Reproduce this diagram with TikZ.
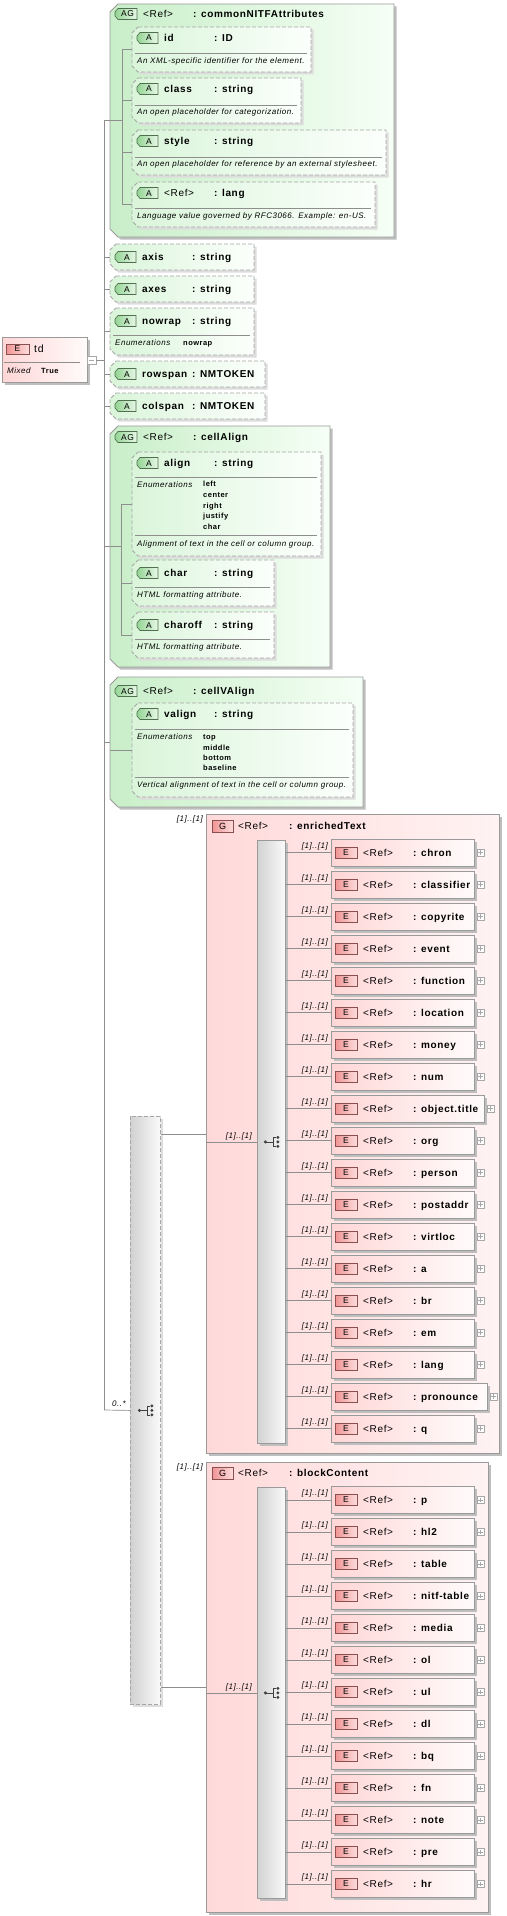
\documentclass[tikz,border=0pt]{standalone}
\usepackage{fontspec}
\setmainfont{Liberation Sans}[LetterSpace=6.5]
\definecolor{lineg}{HTML}{8E8E8E}
\definecolor{bdg}{HTML}{9A9A9A}
\definecolor{dashc}{HTML}{A6A6A6}
\definecolor{shad}{HTML}{BEBEBE}
\definecolor{shadl}{HTML}{DDDDDD}
\definecolor{agL}{HTML}{C8EEC8}
\definecolor{agR}{HTML}{F6FFF6}
\definecolor{atL}{HTML}{DAF5DA}
\definecolor{atR}{HTML}{FCFFFC}
\definecolor{abL}{HTML}{94D494}
\definecolor{abR}{HTML}{E8F8E8}
\definecolor{abD}{HTML}{4F6F4F}
\definecolor{grpL}{HTML}{FFD9D9}
\definecolor{grpR}{HTML}{FFF3F3}
\definecolor{elL}{HTML}{FFD6D6}
\definecolor{elR}{HTML}{FFFBFB}
\definecolor{ebL}{HTML}{F09494}
\definecolor{ebR}{HTML}{FDDCDC}
\definecolor{ebD}{HTML}{8A5050}
\definecolor{barL}{HTML}{D2D2D2}
\definecolor{barR}{HTML}{FAFAFA}
\definecolor{iconc}{HTML}{404040}
\definecolor{plusc}{HTML}{A8A8A8}

\tikzset{
  conn/.style={draw=lineg, line width=0.7pt},
  divl/.style={draw=lineg, line width=0.6pt},
  nm/.style={anchor=base west, inner sep=0pt, font=\fontsize{10}{12}\selectfont\bfseries, yshift=-3.6pt},
  rf/.style={anchor=base west, inner sep=0pt, font=\fontsize{10}{12}\selectfont, yshift=-3.6pt},
  ds/.style={anchor=base west, inner sep=0pt, font=\fontsize{8}{10}\selectfont\itshape, yshift=-2.9pt},
  ev/.style={anchor=base west, inner sep=0pt, font=\fontsize{7.5}{9}\selectfont\bfseries, yshift=-2.7pt},
  ml/.style={anchor=base east, inner sep=0pt, font=\fontsize{8}{10}\selectfont\itshape, yshift=-2.9pt},
  bt/.style={anchor=base, inner sep=0pt, font=\fontsize{8.5}{10}\selectfont, yshift=-3pt},
  agshape/.style={draw=bdg, line width=0.8pt, left color=agL, right color=agR},
  atshape/.style={draw=dashc, line width=0.8pt, dash pattern=on 4pt off 2pt, left color=atL, right color=atR},
  abadge/.style={draw=abD, line width=0.6pt, left color=abL, right color=abR},
  ebadge/.style={draw=ebD, line width=0.6pt, left color=ebL, right color=ebR, minimum width=22pt, minimum height=11pt, inner sep=0pt, font=\fontsize{8.5}{10}\selectfont},
  gbadge/.style={draw=ebD, line width=0.6pt, left color=ebL, right color=ebR, minimum width=21pt, minimum height=12pt, inner sep=0pt, font=\fontsize{9}{10}\selectfont},
  elbox/.style={anchor=west, draw=bdg, line width=0.8pt, left color=elL, right color=elR, minimum height=27pt, inner sep=0pt},
  grpbox/.style={anchor=north west, draw=bdg, line width=0.8pt, left color=grpL, right color=grpR, inner sep=0pt},
  barbox/.style={anchor=north west, draw=bdg, line width=0.8pt, left color=barL, right color=barR, inner sep=0pt},
  obarbox/.style={anchor=north west, draw=dashc, line width=0.8pt, dash pattern=on 4pt off 2pt, left color=barL, right color=barR, inner sep=0pt},
  tdbox/.style={anchor=north west, draw=bdg, line width=0.8pt, left color=elL, right color=elR, inner sep=0pt},
  plusbox/.style={draw=plusc, fill=white, line width=0.6pt, minimum width=7pt, minimum height=7pt, inner sep=0pt},
  plusl/.style={draw=plusc, line width=0.6pt},
  iconl/.style={draw=iconc, line width=0.8pt},
}

% chamfered box: name, x0, y0, x1, y1, style, chamfer, shadow colour
\newcommand\chbox[8]{%
  \fill[#8] ({#2+#7+2.5},{#3+2.5}) -- ({#4+2.5},{#3+2.5}) -- ({#4+2.5},{#5+2.5}) -- ({#2+#7+2.5},{#5+2.5}) -- ({#2+2.5},{#5-#7+2.5}) -- ({#2+2.5},{#3+#7+2.5}) -- cycle;
  \path[#6] ({#2+#7},{#3}) -- ({#4},{#3}) -- ({#4},{#5}) -- ({#2+#7},{#5}) -- ({#2},{#5-#7}) -- ({#2},{#3+#7}) -- cycle;
  \node[inner sep=0pt, outer sep=0pt, anchor=north west, minimum width={#4-#2}, minimum height={#5-#3}] (#1) at (#2,#3) {};
}
% tag badge: name, x0, yc, width, text
\newcommand\tagbadge[5]{%
  \path[abadge] ({#2+3},{#3-5.5}) -- ({#2+#4},{#3-5.5}) -- ({#2+#4},{#3+5.5}) -- ({#2+3},{#3+5.5}) -- ({#2},{#3+2}) -- ({#2},{#3-2}) -- cycle;
  \node[bt] (#1) at ({#2+#4/2+1.5},{#3}) {#5};
}
% attribute: name, x0, y0, x1, y1, yname, name text, type text
\newcommand\attrib[8]{%
  \chbox{#1}{#2}{#3}{#4}{#5}{atshape}{6}{shadl}
  \tagbadge{#1b}{#2+5}{#6}{21}{A}
  \node[nm] (#1n) at ({#2+32},{#6}) {#7};
  \node[nm] (#1t) at ({#2+82},{#6}) {#8};
}
% attribute group: name, x0, y0, x1, y1, yhead, type
\newcommand\agroup[7]{%
  \chbox{#1}{#2}{#3}{#4}{#5}{agshape}{8}{shad}
  \tagbadge{#1b}{#2+5}{#6}{22}{AG}
  \node[rf] (#1r) at ({#2+33},{#6}) {<Ref>};
  \node[nm] (#1t) at ({#2+83},{#6}) {#7};
}
\newcommand\dline[3]{\draw[divl] ({#1+3},{#3}) -- ({#2-4},{#3});}
% element row: name, yc, right, text, bar
\newcommand\elrow[5]{%
  \fill[shad] (333.5,{#2-11}) rectangle ({#3+2.5},{#2+16});
  \node[elbox, minimum width={#3-331}] (#1) at (331,#2) {};
  \node[ebadge] (#1b) at (346,#2) {E};
  \node[rf] (#1r) at (363,#2) {<Ref>};
  \node[nm] (#1t) at (413,#2) {: #4};
  \node[plusbox] (#1p) at ({#3+6.5},#2) {};
  \draw[plusl] ([xshift=-2.2pt]#1p.center) -- ([xshift=2.2pt]#1p.center);
  \draw[plusl] ([yshift=-2.2pt]#1p.center) -- ([yshift=2.2pt]#1p.center);
  \draw[conn] (#5.east |- #1.west) -- (#1.west);
  \node[ml] (#1m) at (328,{#2-7}) {[1]..[1]};
}
% sequence icon: name, at
\newcommand\seqicon[2]{%
  \coordinate (#1) at (#2);
  \draw[iconl] ([xshift=-6pt]#1) -- ([xshift=2pt]#1);
  \draw[iconl] ([xshift=2pt,yshift=4.5pt]#1) -- ([xshift=2pt,yshift=-4.5pt]#1);
  \draw[iconl] ([xshift=2pt,yshift=4.5pt]#1) -- ([xshift=5pt,yshift=4.5pt]#1);
  \draw[iconl] ([xshift=2pt,yshift=-4.5pt]#1) -- ([xshift=5pt,yshift=-4.5pt]#1);
  \fill[iconc] ([xshift=-6pt]#1) circle (1.7pt);
  \fill[iconc] ([xshift=6.5pt,yshift=4.5pt]#1) circle (1.6pt);
  \fill[iconc] ([xshift=6.5pt]#1) circle (1.6pt);
  \fill[iconc] ([xshift=6.5pt,yshift=-4.5pt]#1) circle (1.6pt);
}

\begin{document}
\begin{tikzpicture}[x=1pt, y=-1pt]
\useasboundingbox[fill=white] (0,0) rectangle (506,1916);

% ---------- td element ----------
\fill[shad] (4.5,339.5) rectangle (89.5,384.5);
\node[tdbox, minimum width=85, minimum height=45] (td) at (2,337) {};
\node[ebadge, minimum width=23pt, minimum height=10pt] (tdb) at (17.5,349) {E};
\node[rf, font=\fontsize{10.5}{12}\selectfont] (tdn) at (34,349) {td};
\draw[divl] (4,362) -- (80,362);
\node[ds] (tdmx) at (7,371) {Mixed};
\node[ev] (tdtr) at (41,370.5) {True};
\node[draw=plusc, fill=white, line width=0.6pt, minimum width=9pt, minimum height=8pt, inner sep=0pt] (tdm) at (91.5,360) {};
\draw[plusl] ([xshift=-2.5pt]tdm.center) -- ([xshift=2.5pt]tdm.center);

% ---------- commonNITFAttributes ----------
\agroup{ag1}{110}{4}{394}{237}{14}{: commonNITFAttributes}
\attrib{id}{132}{27}{311}{72}{38}{id}{: ID}
\dline{132}{311}{53}
\node[ds] (idd) at (137,61) {An XML-specific identifier for the element.};
\attrib{class}{132}{78}{301}{123}{89}{class}{: string}
\dline{132}{301}{105}
\node[ds] (classd) at (137,112) {An open placeholder for categorization.};
\attrib{style}{132}{130}{386}{175}{141}{style}{: string}
\dline{132}{386}{157}
\node[ds] (styled) at (137,164) {An open placeholder for reference by an external stylesheet.};
\attrib{lang}{132}{182}{375}{227}{193}{\mdseries <Ref>}{: lang}
\dline{132}{375}{208}
\node[ds] (langd) at (137,216) {Language value governed by RFC3066. Example: en-US.};

% ---------- plain attributes ----------
\attrib{axis}{110}{244}{254}{270}{257}{axis}{: string}
\attrib{axes}{110}{276}{254}{302}{289}{axes}{: string}
\attrib{nowrap}{110}{308}{254}{355}{321}{nowrap}{: string}
\dline{110}{254}{335}
\node[ds] (nowrape) at (115,343) {Enumerations};
\node[ev] (nowrapv) at (183,342.5) {nowrap};
\attrib{rowspan}{110}{361}{265}{387}{374}{rowspan}{: NMTOKEN}
\attrib{colspan}{110}{393}{265}{419}{406}{colspan}{: NMTOKEN}

% ---------- cellAlign ----------
\agroup{ag2}{110}{426}{330}{667}{437}{: cellAlign}
\attrib{align}{132}{452}{321}{556}{463}{align}{: string}
\dline{132}{321}{477}
\node[ds] (aligne) at (137,485) {Enumerations};
\foreach \v [count=\k from 0] in {left,center,right,justify,char}{
  \node[ev] (alignv\k) at (203,{484+10.7*\k}) {\v};
}
\dline{132}{321}{535}
\node[ds] (alignd) at (137,544) {Alignment of text in the cell or column group.};
\attrib{char}{132}{560}{274}{606}{573}{char}{: string}
\dline{132}{274}{587}
\node[ds] (chard) at (137,595) {HTML formatting attribute.};
\attrib{charoff}{132}{612}{274}{658}{625}{charoff}{: string}
\dline{132}{274}{639}
\node[ds] (charoffd) at (137,647) {HTML formatting attribute.};

% ---------- cellVAlign ----------
\agroup{ag3}{110}{677}{363}{807}{691}{: cellVAlign}
\attrib{valign}{132}{703}{353}{797}{714}{valign}{: string}
\dline{132}{353}{729}
\node[ds] (valigne) at (137,737) {Enumerations};
\foreach \v [count=\k from 0] in {top,middle,bottom,baseline}{
  \node[ev] (valignv\k) at (203,{737+10.3*\k}) {\v};
}
\dline{132}{353}{777}
\node[ds] (valignd) at (137,785) {Vertical alignment of text in the cell or column group.};

% ---------- outer sequence ----------
\fill[shadl] (132.5,1118.5) rectangle (162.5,1706.5);
\node[obarbox, minimum width=30, minimum height=588] (obar) at (130,1116) {};
\seqicon{oico}{obar.center}

% ---------- enrichedText group ----------
\fill[shad] (209,817) rectangle (502,1456);
\node[grpbox, minimum width=293, minimum height=639] (gE) at (206,814) {};
\node[gbadge] (gEb) at (222.5,826) {G};
\node[rf] (gEr) at (238,826) {<Ref>};
\node[nm] (gEt) at (289,826) {: enrichedText};
\fill[shad] (259.5,842.5) rectangle (287.5,1445.5);
\node[barbox, minimum width=28, minimum height=603] (ebar) at (257,840) {};
\seqicon{eico}{ebar.center}
\foreach \ename/\rr [count=\i from 0] in {chron/474,classifier/474,copyrite/474,event/474,function/474,location/474,money/474,num/474,object.title/484,org/474,person/474,postaddr/474,virtloc/474,a/474,br/474,em/474,lang/474,pronounce/487,q/474}{
  \pgfmathsetmacro\yc{852.5+32*\i}
  \elrow{et\i}{\yc}{\rr}{\ename}{ebar}
}
\node[ml] (gEm) at (203,819) {[1]..[1]};
\draw[conn] (obar.east |- gE.west) -- (gE.west);
\draw[conn] (gE.west |- ebar.west) -- (ebar.west);
\node[ml] (gEim) at (252,1135.5) {[1]..[1]};

% ---------- blockContent group ----------
\fill[shad] (209,1465) rectangle (491,1915);
\node[grpbox, minimum width=282, minimum height=450] (gB) at (206,1462) {};
\node[gbadge] (gBb) at (222.5,1473) {G};
\node[rf] (gBr) at (238,1473) {<Ref>};
\node[nm] (gBt) at (289,1473) {: blockContent};
\fill[shad] (259.5,1489.5) rectangle (287.5,1900.5);
\node[barbox, minimum width=28, minimum height=411] (bbar) at (257,1487) {};
\seqicon{bico}{bbar.center}
\foreach \ename [count=\i from 0] in {p,hl2,table,nitf-table,media,ol,ul,dl,bq,fn,note,pre,hr}{
  \pgfmathsetmacro\yc{1500+32*\i}
  \elrow{bt\i}{\yc}{474}{\ename}{bbar}
}
\node[ml] (gBm) at (203,1467) {[1]..[1]};
\draw[conn] (obar.east |- gB.west) -- (gB.west);
\draw[conn] (gB.west |- bbar.west) -- (bbar.west);
\node[ml] (gBim) at (252,1687) {[1]..[1]};

% ---------- trunk connectors ----------
\coordinate (trunkTop) at (104,120.5);
\coordinate (trunkBot) at (104,1410);
\draw[conn] (tdm.east) -- (trunkTop |- tdm.east);
\draw[conn] (trunkTop) -- (trunkBot);
\draw[conn] (trunkTop) -- (ag1.west);
\foreach \b in {axis,axes,nowrap,rowspan,colspan,ag2,ag3}{
  \draw[conn] (trunkTop |- \b.west) -- (\b.west);
}
\draw[conn] (trunkBot) -- (obar.west);
\node[ml] (zm) at (126,1404) {0..*};

% inner connectors of attribute groups
\coordinate (ag1x) at (122,120.5);
\draw[conn] (ag1.west) -- (ag1x);
\draw[conn] (ag1x |- id.west) -- (ag1x |- lang.west);
\foreach \b in {id,class,style,lang}{
  \draw[conn] (ag1x |- \b.west) -- (\b.west);
}
\coordinate (ag2x) at (121,546.5);
\draw[conn] (ag2.west) -- (ag2x);
\draw[conn] (ag2x |- align.west) -- (ag2x |- charoff.west);
\foreach \b in {align,char,charoff}{
  \draw[conn] (ag2x |- \b.west) -- (\b.west);
}
\draw[conn] (ag3.west |- valign.west) -- (valign.west);
\end{tikzpicture}
\end{document}
